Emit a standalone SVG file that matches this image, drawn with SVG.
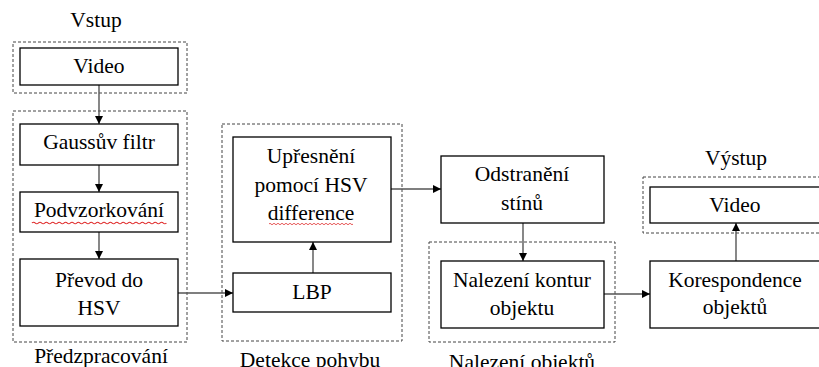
<svg xmlns="http://www.w3.org/2000/svg" width="819" height="367" viewBox="0 0 819 367">
<defs>
  <marker id="ah" viewBox="0 0 10 10" refX="10" refY="5" markerWidth="8" markerHeight="8" markerUnits="userSpaceOnUse" orient="auto">
    <path d="M0,0 L10,5 L0,10 z" fill="#000"/>
  </marker>
  <path id="wave" d="M0,0 q1,-1.5 2,0 t2,0 t2,0 t2,0 t2,0 t2,0 t2,0 t2,0 t2,0 t2,0 t2,0 t2,0 t2,0 t2,0 t2,0 t2,0 t2,0 t2,0 t2,0 t2,0 t2,0 t2,0 t2,0 t2,0 t2,0 t2,0 t2,0 t2,0 t2,0 t2,0 t2,0 t2,0 t2,0 t2,0 t2,0 t2,0 t2,0 t2,0 t2,0 t2,0 t2,0 t2,0" fill="none" stroke="#e03030" stroke-width="0.8"/>
</defs>
<rect width="819" height="367" fill="#fff"/>
<g font-family="Liberation Serif" font-size="21.5" text-anchor="middle" fill="#000">
<g fill="none" stroke="#444" stroke-width="1" stroke-dasharray="3,2">
  <g id="group-vstup"><rect x="13" y="42" width="174" height="51"/></g>
  <g id="group-predzpracovani"><rect x="13" y="111" width="174" height="231"/></g>
  <g id="group-detekce"><rect x="222" y="124" width="180" height="217"/></g>
  <g id="group-nalezeni"><rect x="429" y="242" width="186" height="100"/></g>
  <g id="group-vystup"><rect x="643" y="177" width="185" height="56"/></g>
</g>
<g id="group-labels">
  <text x="96" y="27">Vstup</text>
  <text x="101" y="363">Předzpracování</text>
  <text x="310" y="367">Detekce pohybu</text>
  <text x="522" y="369">Nalezení objektů</text>
  <text x="736" y="165">Výstup</text>
</g>

<g id="connectors" fill="none" stroke="#555" stroke-width="1.4" marker-end="url(#ah)">
  <line x1="99" y1="85" x2="99" y2="124"/>
  <line x1="99" y1="165" x2="99" y2="192"/>
  <line x1="99" y1="232" x2="99" y2="259"/>
  <line x1="178" y1="293" x2="233" y2="293"/>
  <line x1="313" y1="273" x2="313" y2="242"/>
  <line x1="391" y1="189" x2="441" y2="189"/>
  <line x1="523" y1="223" x2="523" y2="261"/>
  <line x1="604" y1="294" x2="650" y2="294"/>
  <line x1="736" y1="261" x2="736" y2="223"/>
</g>

<g id="video-in">
  <rect x="20" y="48" width="158" height="37" fill="#fff" stroke="#000" stroke-width="1.3"/>
  <text x="99" y="73">Video</text>
</g>
<g id="gauss">
  <rect x="20" y="124" width="158" height="41" fill="#fff" stroke="#000" stroke-width="1.3"/>
  <text x="99" y="149">Gaussův filtr</text>
</g>
<g id="podvzorkovani">
  <rect x="20" y="192" width="158" height="40" fill="#fff" stroke="#000" stroke-width="1.3"/>
  <text x="99" y="217">Podvzorkování</text>
  <use href="#wave" x="32" y="223" transform="translate(32,223) scale(1.6,1) translate(-32,-223)"/>
</g>
<g id="prevod">
  <rect x="20" y="259" width="158" height="67" fill="#fff" stroke="#000" stroke-width="1.3"/>
  <text x="99" y="287">Převod do</text>
  <text x="99" y="315">HSV</text>
</g>
<g id="upresneni">
  <rect x="233" y="137" width="158" height="105" fill="#fff" stroke="#000" stroke-width="1.3"/>
  <text x="311" y="163">Upřesnění</text>
  <text x="311" y="192">pomocí HSV</text>
  <text x="311" y="220">difference</text>
  <use href="#wave" x="269" y="224"/>
</g>
<g id="lbp">
  <rect x="233" y="273" width="158" height="39" fill="#fff" stroke="#000" stroke-width="1.3"/>
  <text x="312" y="299">LBP</text>
</g>
<g id="odstraneni">
  <rect x="441" y="156" width="163" height="67" fill="#fff" stroke="#000" stroke-width="1.3"/>
  <text x="522" y="181">Odstranění</text>
  <text x="522" y="210">stínů</text>
</g>
<g id="kontury">
  <rect x="441" y="261" width="163" height="67" fill="#fff" stroke="#000" stroke-width="1.3"/>
  <text x="522" y="287">Nalezení kontur</text>
  <text x="522" y="315">objektu</text>
</g>
<g id="video-out">
  <rect x="650" y="187" width="172" height="36" fill="#fff" stroke="#000" stroke-width="1.3"/>
  <text x="735" y="212">Video</text>
</g>
<g id="korespondence">
  <rect x="650" y="261" width="172" height="67" fill="#fff" stroke="#000" stroke-width="1.3"/>
  <text x="735" y="287">Korespondence</text>
  <text x="735" y="314">objektů</text>
</g>
</g>
</svg>
